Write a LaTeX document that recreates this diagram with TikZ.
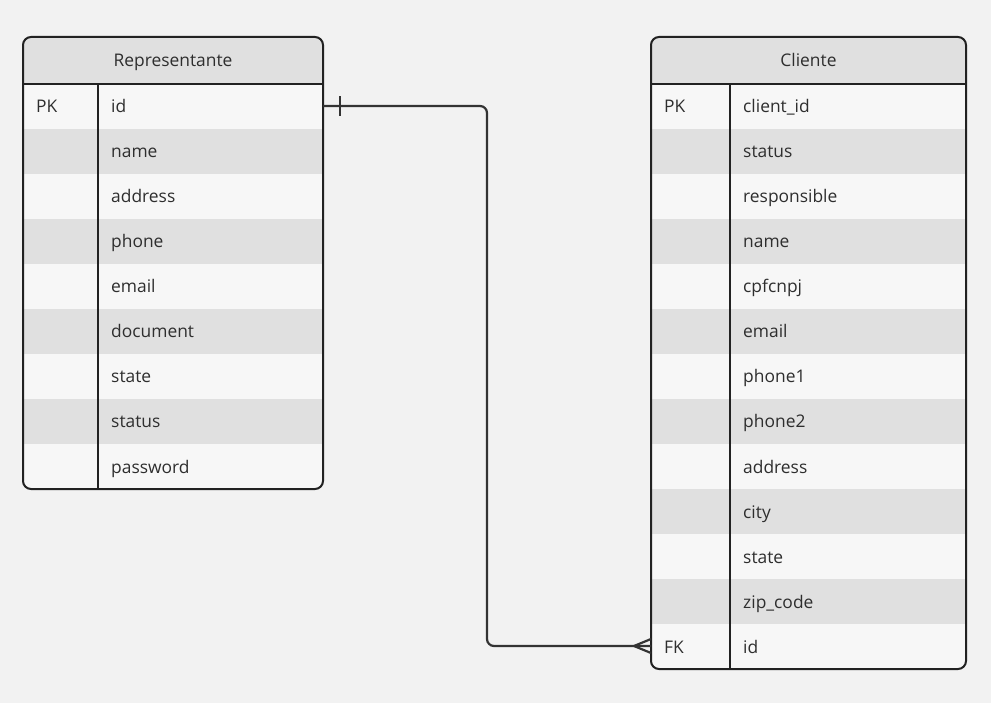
\documentclass[tikz,border=0pt]{standalone}
\usepackage{fontspec}
\setmainfont{Open Sans}
\usetikzlibrary{calc}

\definecolor{canvas}{HTML}{F2F2F2}
\definecolor{rowlight}{HTML}{F7F7F7}
\definecolor{rowdark}{HTML}{E0E0E0}
\definecolor{frame}{HTML}{222222}
\definecolor{wire}{HTML}{333333}
\definecolor{label}{HTML}{2E2E2E}

\tikzset{
  tableframe/.style={draw=frame, line width=2pt, rounded corners=8pt},
  fieldtext/.style={text=label, inner sep=0pt, anchor=base west, font=\fontsize{17.4}{20}\selectfont},
  titletext/.style={text=label, inner sep=0pt, anchor=base, font=\fontsize{17.4}{20}\selectfont},
  relation/.style={draw=wire, line width=2.2pt, rounded corners=7pt},
  relmark/.style={draw=wire, line width=2.2pt},
}

% \ertable{prefix}{left}{right}{divider}{title}{rows}{fields}
\newcommand{\ertable}[7]{%
  \begin{scope}
    \clip[rounded corners=8pt] (#2,37) rectangle (#3,{84+45*#6});
    \fill[rowdark] (#2,37) rectangle (#3,84);
    \foreach \r in {1,...,#6} {
      \ifodd\r\def\rowcol{rowlight}\else\def\rowcol{rowdark}\fi
      \fill[\rowcol] (#2,{84+45*(\r-1)}) rectangle (#3,{84+45*\r});
    }
  \end{scope}
  \node[titletext] (#1-title) at ({(#2+#3)/2},67) {#5};
  \foreach \f [count=\r] in {#7} {
    \node[fieldtext] (#1-\r) at ({#4+13},{84+45*\r-16}) {\f};
  }
  \draw[tableframe] (#2,37) rectangle (#3,{84+45*#6});
  \draw[frame, line width=2pt] (#2,84) -- (#3,84);
  \draw[frame, line width=2pt] (#4,84) -- (#4,{84+45*#6});
}

\begin{document}
\begin{tikzpicture}[x=1pt, y=-1pt]
  \fill[canvas] (0,0) rectangle (991,703);
  \useasboundingbox (0,0) rectangle (991,703);

  % Representante entity
  \ertable{rep}{23}{323}{98}{Representante}{9}%
    {id,name,address,phone,email,document,state,status,password}
  \node[fieldtext] (rep-pk) at (36,{84+45-16}) {PK};

  % Cliente entity
  \ertable{cli}{651}{966}{730}{Cliente}{13}%
    {client\_id,status,responsible,name,cpfcnpj,email,phone1,phone2,address,city,state,zip\_code,id}
  \node[fieldtext] (cli-pk) at (664,{84+45-16}) {PK};
  \node[fieldtext] (cli-fk) at (664,{84+45*13-16}) {FK};

  % relationship: one Representante to many Cliente
  \coordinate (rep-id-end) at (323,106);
  \coordinate (cli-id-end) at (651,646);
  \draw[relation] (rep-id-end)
    -| ($(rep-id-end)!.5!(cli-id-end)$)
    |- (cli-id-end);
  % "one" bar
  \draw[relmark] ([xshift=17pt,yshift=-10pt]rep-id-end) -- ([xshift=17pt,yshift=10pt]rep-id-end);
  % "many" crow's foot
  \draw[relmark] ([xshift=-17pt]cli-id-end) -- ([yshift=7pt]cli-id-end);
  \draw[relmark] ([xshift=-17pt]cli-id-end) -- ([yshift=-7pt]cli-id-end);
\end{tikzpicture}
\end{document}
